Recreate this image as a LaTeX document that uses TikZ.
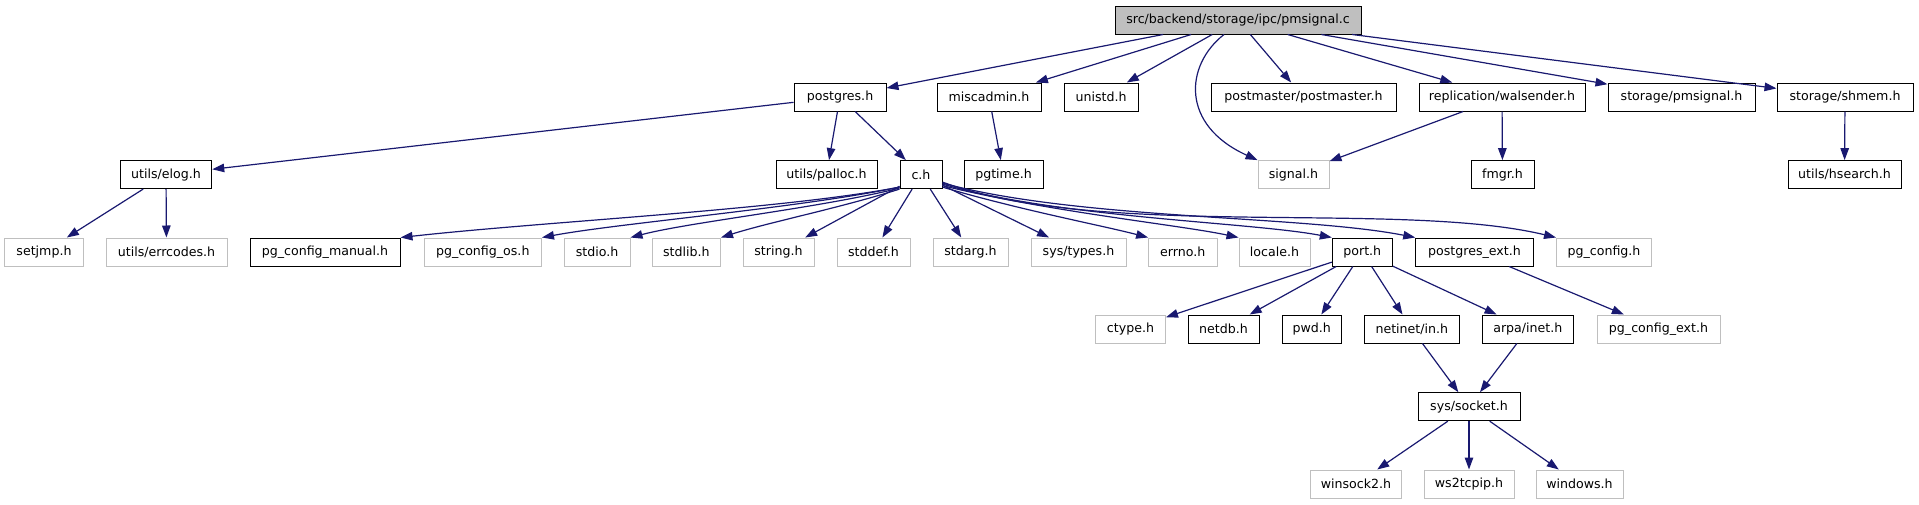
\documentclass[tikz,border=0pt]{standalone}
\usepackage{fontspec}
\setmainfont{DejaVu Sans}
\usetikzlibrary{arrows.meta}
\definecolor{edgeblue}{HTML}{191970}
\definecolor{greyline}{HTML}{BFBFBF}
\begin{document}
\begin{tikzpicture}[x=1pt,y=1pt,
  blk/.style={draw=black, fill=white, line width=1pt, minimum height=28pt, inner sep=0pt,
    font=\fontsize{12.6pt}{15pt}\selectfont},
  gry/.style={blk, draw=greyline},
  rootbox/.style={blk, fill=greyline},
  dep/.style={draw=edgeblue, line width=1.2pt, -{Triangle[length=12pt,width=8.5pt]}}]
\useasboundingbox (0,0) rectangle (1919,-504);
% row 0
\node[rootbox, minimum width=246pt] (root) at (1238,-20) {src/backend/storage/ipc/pmsignal.c};
% row 1
\node[blk, minimum width=92pt]  (pg)      at (840,-97)    {postgres.h};
\node[blk, minimum width=104pt] (misc)    at (989,-97)    {miscadmin.h};
\node[blk, minimum width=74pt]  (unistd)  at (1101,-97)   {unistd.h};
\node[blk, minimum width=185pt] (pmaster) at (1303.5,-97) {postmaster/postmaster.h};
\node[blk, minimum width=166pt] (walsnd)  at (1502,-97)   {replication/walsender.h};
\node[blk, minimum width=147pt] (pmsig)   at (1681.5,-97) {storage/pmsignal.h};
\node[blk, minimum width=136pt] (shmem)   at (1845,-97)   {storage/shmem.h};
% row 2
\node[blk, minimum width=91.5pt] (elog)   at (166,-174.6)   {utils/elog.h};
\node[blk, minimum width=101pt]  (palloc) at (826.5,-174.6) {utils/palloc.h};
\node[blk, minimum width=42pt]   (ch)     at (921,-174.6)   {c.h};
\node[blk, minimum width=79pt]   (pgtime) at (1003.5,-174.6){pgtime.h};
\node[gry, minimum width=71pt]   (signal) at (1293.5,-174.6){signal.h};
\node[blk, minimum width=63pt]   (fmgr)   at (1502.5,-174.6){fmgr.h};
\node[blk, minimum width=113pt]  (hsearch)at (1844.5,-174.6){utils/hsearch.h};
% row 3
\node[gry, minimum width=79pt]    (setjmp)   at (44,-252)     {setjmp.h};
\node[gry, minimum width=121pt]   (errc)     at (166.5,-252)  {utils/errcodes.h};
\node[blk, minimum width=150pt]   (pgcm)     at (325,-252)    {pg\_config\_manual.h};
\node[gry, minimum width=117.5pt] (pgcos)    at (482.75,-252) {pg\_config\_os.h};
\node[gry, minimum width=66pt]    (stdio)    at (597,-252)    {stdio.h};
\node[gry, minimum width=68.5pt]  (stdlib)   at (686.25,-252) {stdlib.h};
\node[gry, minimum width=71pt]    (string)   at (778.5,-252)  {string.h};
\node[gry, minimum width=73pt]    (stddef)   at (873.5,-252)  {stddef.h};
\node[gry, minimum width=75pt]    (stdarg)   at (970.5,-252)  {stdarg.h};
\node[gry, minimum width=95pt]    (systypes) at (1078.5,-252) {sys/types.h};
\node[gry, minimum width=68.4pt]  (errno)    at (1182.8,-252) {errno.h};
\node[gry, minimum width=71pt]    (locale)   at (1274.5,-252) {locale.h};
\node[blk, minimum width=60pt]    (port)     at (1362.3,-252) {port.h};
\node[blk, minimum width=117.5pt] (pgext)    at (1474.5,-252) {postgres\_ext.h};
\node[gry, minimum width=95pt]    (pgconf)   at (1604,-252)   {pg\_config.h};
% row 4
\node[gry, minimum width=70pt]  (ctype)  at (1130.5,-329) {ctype.h};
\node[blk, minimum width=71pt]  (netdb)  at (1223.5,-329) {netdb.h};
\node[blk, minimum width=59pt]  (pwd)    at (1311.8,-329) {pwd.h};
\node[blk, minimum width=95pt]  (netin)  at (1411.8,-329) {netinet/in.h};
\node[blk, minimum width=91pt]  (arpa)   at (1527.8,-329) {arpa/inet.h};
\node[gry, minimum width=123pt] (pgcext) at (1658.5,-329) {pg\_config\_ext.h};
% row 5
\node[blk, minimum width=102pt] (socket) at (1469,-406.7) {sys/socket.h};
% row 6
\node[gry, minimum width=91pt] (winsock) at (1356,-484)   {winsock2.h};
\node[gry, minimum width=90pt] (ws2)     at (1469,-484)   {ws2tcpip.h};
\node[gry, minimum width=87pt] (windows) at (1579.5,-484) {windows.h};
% edges from root
\draw[dep] (root) -- (pg);
\draw[dep] (root) -- (misc);
\draw[dep] (root) -- (unistd);
\draw[dep] ([xshift=-14pt]root.south) .. controls (1185,-65) and (1180,-125) .. (signal.north west);
\draw[dep] (root) -- (pmaster);
\draw[dep] (root) -- (walsnd);
\draw[dep] (root) -- (pmsig);
\draw[dep] (root) -- (shmem);
% row 1 edges
\draw[dep] (pg) -- (elog);
\draw[dep] (pg) -- (palloc);
\draw[dep] (pg) -- (ch);
\draw[dep] (misc) -- (pgtime);
\draw[dep] (walsnd) -- (signal);
\draw[dep] (walsnd) -- (fmgr);
\draw[dep] (shmem) -- (hsearch);
% elog
\draw[dep] (elog) -- (setjmp);
\draw[dep] (elog) -- (errc);
% c.h fan
\draw[dep] ([yshift=2pt]ch.south west) .. controls (780,-210) and (550,-221) .. (pgcm.north east);
\draw[dep] ([yshift=2pt]ch.south west) .. controls (800,-208) and (620,-223) .. (pgcos.north east);
\draw[dep] ([yshift=1pt]ch.south west) .. controls (820,-208) and (690,-222) .. (stdio.north east);
\draw[dep] (ch.south west) .. controls (840,-208) and (770,-222) .. (stdlib.north east);
\draw[dep] (ch) -- (string);
\draw[dep] (ch) -- (stddef);
\draw[dep] (ch) -- (stdarg);
\draw[dep] (ch) -- (systypes);
\draw[dep] ([yshift=2pt]ch.south east) .. controls (1020,-210) and (1100,-225) .. (errno.north west);
\draw[dep] ([yshift=3.5pt]ch.south east) .. controls (1050,-212) and (1180,-225) .. (locale.north west);
\draw[dep] ([yshift=5pt]ch.south east) .. controls (1060,-218) and (1250,-222) .. (port.north west);
\draw[dep] ([yshift=6pt]ch.south east) .. controls (1080,-220) and (1300,-215) .. (pgext.north west);
\draw[dep] ([yshift=7pt]ch.south east) .. controls (1100,-240) and (1400,-200) .. (pgconf.north west);
% port
\draw[dep] (port) -- (ctype);
\draw[dep] (port) -- (netdb);
\draw[dep] (port) -- (pwd);
\draw[dep] (port) -- (netin);
\draw[dep] (port) -- (arpa);
\draw[dep] (pgext) -- (pgcext);
% socket
\draw[dep] (netin) -- (socket);
\draw[dep] (arpa) -- (socket);
\draw[dep] (socket) -- (winsock);
\draw[dep] (socket) -- (ws2);
\draw[dep] (socket) -- (windows);
\end{tikzpicture}
\end{document}
